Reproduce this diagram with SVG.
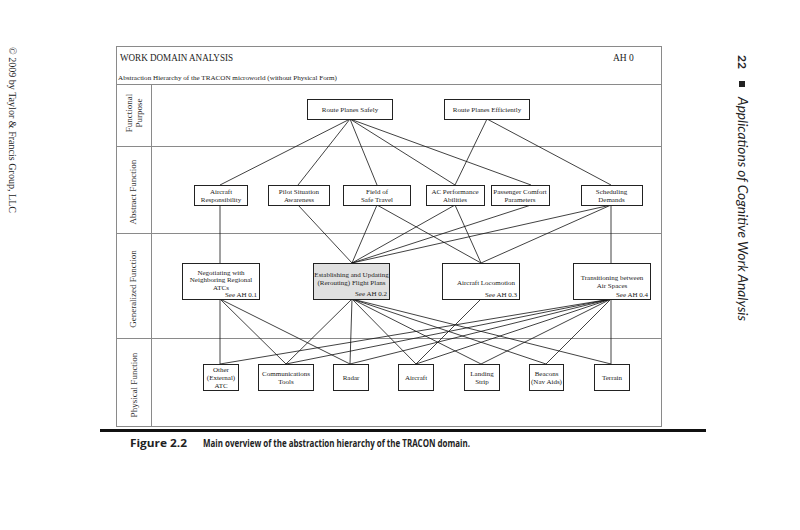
<svg xmlns="http://www.w3.org/2000/svg" width="800" height="530" viewBox="0 0 800 530">
<style>
.frame{fill:none;stroke:#8a8a8a;stroke-width:1}
.box{fill:#fff;stroke:#222;stroke-width:1}
.gbox{fill:#e0e0e0;stroke:#222;stroke-width:1}
.t{font-family:"Liberation Serif","DejaVu Serif",serif;font-size:7px;fill:#222;text-anchor:middle}
.r{text-anchor:end}
.lab{font-family:"Liberation Serif","DejaVu Serif",serif;font-size:9px;fill:#333;text-anchor:middle}
.hd{font-family:"Liberation Serif","DejaVu Serif",serif;fill:#222}
.conn line{stroke:#111;stroke-width:0.8}
.cap{font-family:"Open Sans",Lato,sans-serif;font-weight:bold;font-size:10px;fill:#222}
</style>
<rect width="800" height="530" fill="#fff"/>
<!-- margins -->
<text class="hd" font-size="9.5" transform="translate(9,47) rotate(90)" textLength="166" lengthAdjust="spacingAndGlyphs">© 2009 by Taylor &amp; Francis Group, LLC</text>
<text font-family="Lato,'Open Sans',sans-serif" font-weight="bold" font-size="12" fill="#222" transform="translate(738,55) rotate(90)">22</text>
<rect x="739" y="81" width="6" height="6" fill="#222"/>
<text font-family="Lato,'Open Sans',sans-serif" font-style="italic" font-size="12.5" fill="#222" transform="translate(738,97) rotate(90)" textLength="224" lengthAdjust="spacingAndGlyphs">Applications of Cognitive Work Analysis</text>
<!-- frame -->
<rect class="frame" x="116.5" y="46.5" width="545" height="380"/>
<line class="frame" x1="116" y1="84.5" x2="662" y2="84.5"/>
<line class="frame" x1="116" y1="146.5" x2="662" y2="146.5"/>
<line class="frame" x1="116" y1="233.5" x2="662" y2="233.5"/>
<line class="frame" x1="116" y1="338.5" x2="662" y2="338.5"/>
<line class="frame" x1="151.5" y1="84" x2="151.5" y2="427"/>
<text class="hd" font-size="9.5" x="120" y="61" textLength="113" lengthAdjust="spacingAndGlyphs">WORK DOMAIN ANALYSIS</text>
<text class="hd" font-size="9.5" x="613" y="61">AH 0</text>
<text class="hd" font-size="7" x="118" y="79.5" textLength="219" lengthAdjust="spacingAndGlyphs">Abstraction Hierarchy of the TRACON microworld (without Physical Form)</text>
<text class="lab" transform="translate(132,113) rotate(-90)">Functional</text>
<text class="lab" transform="translate(142,113) rotate(-90)">Purpose</text>
<text class="lab" transform="translate(136,192) rotate(-90)">Abstract Function</text>
<text class="lab" transform="translate(136,289) rotate(-90)">Generalized Function</text>
<text class="lab" transform="translate(137,385) rotate(-90)">Physical Function</text>
<!-- connectors -->
<g id="connectors" class="conn">
<line x1="350" y1="119" x2="220" y2="185"/>
<line x1="350" y1="119" x2="298" y2="185"/>
<line x1="350" y1="119" x2="377" y2="185"/>
<line x1="350" y1="119" x2="455" y2="185"/>
<line x1="350" y1="119" x2="531" y2="185"/>
<line x1="487" y1="119" x2="455" y2="185"/>
<line x1="487" y1="119" x2="611" y2="185"/>
<line x1="220" y1="205" x2="220" y2="263"/>
<line x1="298" y1="205" x2="352" y2="263"/>
<line x1="377" y1="205" x2="352" y2="263"/>
<line x1="377" y1="205" x2="481" y2="263"/>
<line x1="455" y1="205" x2="352" y2="263"/>
<line x1="455" y1="205" x2="481" y2="263"/>
<line x1="531" y1="205" x2="352" y2="263"/>
<line x1="611" y1="205" x2="352" y2="263"/>
<line x1="611" y1="205" x2="481" y2="263"/>
<line x1="611" y1="205" x2="611" y2="263"/>
<line x1="220" y1="299" x2="220" y2="364"/>
<line x1="220" y1="299" x2="286" y2="364"/>
<line x1="220" y1="299" x2="350" y2="364"/>
<line x1="352" y1="299" x2="286" y2="364"/>
<line x1="352" y1="299" x2="350" y2="364"/>
<line x1="352" y1="299" x2="416" y2="364"/>
<line x1="352" y1="299" x2="481" y2="364"/>
<line x1="352" y1="299" x2="546" y2="364"/>
<line x1="352" y1="299" x2="611" y2="364"/>
<line x1="481" y1="299" x2="416" y2="364"/>
<line x1="611" y1="299" x2="220" y2="364"/>
<line x1="611" y1="299" x2="286" y2="364"/>
<line x1="611" y1="299" x2="350" y2="364"/>
<line x1="611" y1="299" x2="416" y2="364"/>
<line x1="611" y1="299" x2="481" y2="364"/>
<line x1="611" y1="299" x2="546" y2="364"/>
<line x1="611" y1="299" x2="611" y2="364"/>
</g>
<!-- Functional purpose -->
<g id="route-safely"><rect class="box" x="307.5" y="99.5" width="85" height="20"/><text class="t" x="350" y="111.5">Route Planes Safely</text></g>
<g id="route-efficiently"><rect class="box" x="444.5" y="99.5" width="85" height="20"/><text class="t" x="487" y="111.5">Route Planes Efficiently</text></g>
<!-- Abstract function -->
<g id="aircraft-resp"><rect class="box" x="194.5" y="185.5" width="53" height="20"/><text class="t" x="221" y="193.5">Aircraft</text><text class="t" x="221" y="202">Responsibility</text></g>
<g id="pilot-sa"><rect class="box" x="268.5" y="185.5" width="61" height="20"/><text class="t" x="299" y="193.5">Pilot Situation</text><text class="t" x="299" y="202">Awareness</text></g>
<g id="field-safe"><rect class="box" x="343.5" y="185.5" width="67" height="20"/><text class="t" x="377" y="193.5">Field of</text><text class="t" x="377" y="202">Safe Travel</text></g>
<g id="ac-perf"><rect class="box" x="426.5" y="185.5" width="58" height="20"/><text class="t" x="455" y="193.5">AC Performance</text><text class="t" x="455" y="202">Abilities</text></g>
<g id="pass-comfort"><rect class="box" x="491.5" y="185.5" width="58" height="20"/><text class="t" x="520" y="193.5">Passenger Comfort</text><text class="t" x="520" y="202">Parameters</text></g>
<g id="scheduling"><rect class="box" x="581.5" y="185.5" width="61" height="20"/><text class="t" x="611.5" y="193.5">Scheduling</text><text class="t" x="611.5" y="202">Demands</text></g>
<!-- Generalized function -->
<g id="negotiating"><rect class="box" x="182.5" y="263.5" width="77" height="36"/><text class="t" x="221" y="274.5">Negotiating with</text><text class="t" x="221" y="282">Neighboring Regional</text><text class="t" x="221" y="289.5">ATCs</text><text class="t r" x="257" y="296.5">See AH 0.1</text></g>
<g id="establishing"><rect class="gbox" x="313.5" y="263.5" width="76" height="36"/><text class="t" x="351.5" y="276.5">Establishing and Updating</text><text class="t" x="351.5" y="284.5">(Rerouting) Flight Plans</text><text class="t r" x="387" y="296">See AH 0.2</text></g>
<g id="locomotion"><rect class="box" x="442.5" y="263.5" width="77" height="36"/><text class="t" x="486" y="284.5">Aircraft Locomotion</text><text class="t r" x="517" y="296.5">See AH 0.3</text></g>
<g id="transitioning"><rect class="box" x="573.5" y="263.5" width="77" height="36"/><text class="t" x="612" y="279.5">Transitioning between</text><text class="t" x="612" y="288">Air Spaces</text><text class="t r" x="648" y="296.5">See AH 0.4</text></g>
<!-- Physical function -->
<g id="other-atc"><rect class="box" x="203.5" y="364.5" width="35" height="26"/><text class="t" x="221" y="371.5">Other</text><text class="t" x="221" y="379.5">(External)</text><text class="t" x="221" y="387.5">ATC</text></g>
<g id="comm-tools"><rect class="box" x="258.5" y="364.5" width="55" height="26"/><text class="t" x="286" y="375.5">Communications</text><text class="t" x="286" y="384">Tools</text></g>
<g id="radar"><rect class="box" x="333.5" y="364.5" width="35" height="26"/><text class="t" x="351" y="380">Radar</text></g>
<g id="aircraft"><rect class="box" x="398.5" y="364.5" width="35" height="26"/><text class="t" x="416" y="380">Aircraft</text></g>
<g id="landing-strip"><rect class="box" x="464.5" y="364.5" width="35" height="26"/><text class="t" x="482" y="375.5">Landing</text><text class="t" x="482" y="384">Strip</text></g>
<g id="beacons"><rect class="box" x="529.5" y="364.5" width="34" height="26"/><text class="t" x="546.5" y="375.5">Beacons</text><text class="t" x="546.5" y="384">(Nav Aids)</text></g>
<g id="terrain"><rect class="box" x="594.5" y="364.5" width="35" height="26"/><text class="t" x="612" y="380">Terrain</text></g>
<!-- caption -->
<rect x="100" y="429" width="606" height="3" fill="#111"/>
<text class="cap" x="130" y="447" textLength="57" lengthAdjust="spacingAndGlyphs">Figure 2.2</text>
<text class="cap" x="203" y="447" textLength="267" lengthAdjust="spacingAndGlyphs">Main overview of the abstraction hierarchy of the TRACON domain.</text>
</svg>
